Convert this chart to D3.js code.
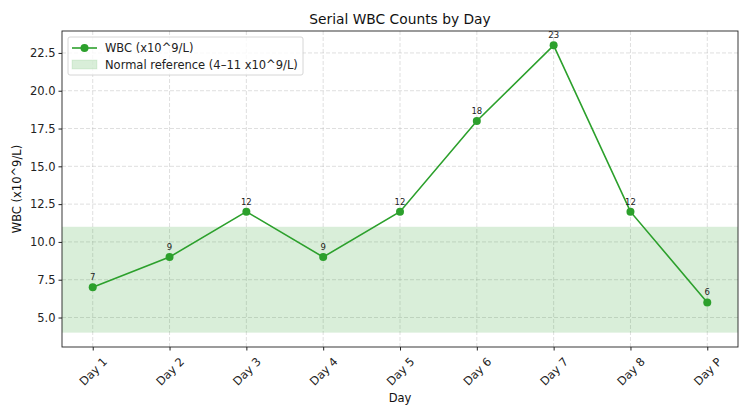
<!DOCTYPE html>
<html lang="en">
<head>
<meta charset="UTF-8"/>
<title>Serial WBC Counts by Day</title>
<script src="https://d3js.org/d3.v7.min.js"></script>
<style>
  body { margin: 0; background: #fff; }
  text { font-family: "DejaVu Sans", sans-serif; }
</style>
</head>
<body>
<script>
var days = ["Day 1", "Day 2", "Day 3", "Day 4", "Day 5", "Day 6", "Day 7", "Day 8", "Day P"];
var wbc = [7, 9, 12, 9, 12, 18, 23, 12, 6];
var refLow = 4, refHigh = 11;
var yTicks = [5.0, 7.5, 10.0, 12.5, 15.0, 17.5, 20.0, 22.5];

var w = 750, h = 417;
var plotLeft = 62, plotRight = 738, plotTop = 31, plotBottom = 347;
var green = "#2ca02c";

var svg = d3.select("body").append("svg")
    .attr("width", w)
    .attr("height", h);

var xScale = d3.scaleLinear()
    .domain([-0.4, days.length - 1 + 0.4])
    .range([plotLeft, plotRight]);

var yScale = d3.scaleLinear()
    .domain([3.05, 23.95])
    .range([plotBottom, plotTop]);

// grid
svg.append("g").selectAll("line")
    .data(days)
    .enter().append("line")
    .attr("x1", (d, i) => xScale(i)).attr("x2", (d, i) => xScale(i))
    .attr("y1", plotTop).attr("y2", plotBottom)
    .attr("stroke", "#b0b0b0").attr("stroke-opacity", 0.5)
    .attr("stroke-dasharray", "4,2").attr("stroke-width", 0.8);

svg.append("g").selectAll("line")
    .data(yTicks)
    .enter().append("line")
    .attr("x1", plotLeft).attr("x2", plotRight)
    .attr("y1", d => yScale(d)).attr("y2", d => yScale(d))
    .attr("stroke", "#b0b0b0").attr("stroke-opacity", 0.5)
    .attr("stroke-dasharray", "4,2").attr("stroke-width", 0.8);

// reference band
svg.append("rect")
    .attr("x", plotLeft)
    .attr("width", plotRight - plotLeft)
    .attr("y", yScale(refHigh))
    .attr("height", yScale(refLow) - yScale(refHigh))
    .attr("fill", green)
    .attr("fill-opacity", 0.18);

// line
var line = d3.line()
    .x((d, i) => xScale(i))
    .y(d => yScale(d));

svg.append("path")
    .datum(wbc)
    .attr("d", line)
    .attr("fill", "none")
    .attr("stroke", green)
    .attr("stroke-width", 1.6);

svg.selectAll("circle")
    .data(wbc)
    .enter().append("circle")
    .attr("cx", (d, i) => xScale(i))
    .attr("cy", d => yScale(d))
    .attr("r", 4)
    .attr("fill", green);

// value labels
svg.selectAll("text.val")
    .data(wbc)
    .enter().append("text")
    .attr("class", "val")
    .attr("x", (d, i) => xScale(i))
    .attr("y", d => yScale(d) - 7)
    .attr("text-anchor", "middle")
    .attr("font-size", "8.5px")
    .attr("fill", "#222")
    .text(d => d);

// axes
var xAxis = d3.axisBottom(xScale)
    .tickValues(d3.range(days.length))
    .tickFormat(i => days[i])
    .tickSize(3.5)
    .tickPadding(3);

var gx = svg.append("g")
    .attr("transform", "translate(0," + plotBottom + ")")
    .call(xAxis);
gx.select(".domain").remove();
gx.selectAll("line").attr("stroke", "#222");
gx.selectAll("text")
    .attr("font-size", "11.5px")
    .attr("fill", "#222")
    .attr("text-anchor", "middle")
    .attr("y", 0)
    .attr("dy", "0.35em")
    .attr("transform", "translate(0,24.5) rotate(-45)");

var yAxis = d3.axisLeft(yScale)
    .tickValues(yTicks)
    .tickFormat(d3.format(".1f"))
    .tickSize(3.5)
    .tickPadding(3);

var gy = svg.append("g")
    .attr("transform", "translate(" + plotLeft + ",0)")
    .call(yAxis);
gy.select(".domain").remove();
gy.selectAll("line").attr("stroke", "#222");
gy.selectAll("text").attr("font-size", "11.5px").attr("fill", "#222");

// frame
svg.append("rect")
    .attr("x", plotLeft).attr("y", plotTop)
    .attr("width", plotRight - plotLeft).attr("height", plotBottom - plotTop)
    .attr("fill", "none")
    .attr("stroke", "#222")
    .attr("stroke-width", 0.9);

// titles
svg.append("text")
    .attr("x", (plotLeft + plotRight) / 2).attr("y", 24)
    .attr("text-anchor", "middle")
    .attr("font-size", "13.8px")
    .attr("fill", "#111")
    .text("Serial WBC Counts by Day");

svg.append("text")
    .attr("x", (plotLeft + plotRight) / 2).attr("y", 402)
    .attr("text-anchor", "middle")
    .attr("font-size", "11.5px")
    .attr("fill", "#111")
    .text("Day");

svg.append("text")
    .attr("transform", "translate(21," + ((plotTop + plotBottom) / 2) + ") rotate(-90)")
    .attr("text-anchor", "middle")
    .attr("font-size", "11.5px")
    .attr("fill", "#111")
    .text("WBC (x10^9/L)");

// legend
var lg = svg.append("g").attr("transform", "translate(68,37)");
lg.append("rect")
    .attr("width", 235).attr("height", 38)
    .attr("rx", 2)
    .attr("fill", "#fff").attr("fill-opacity", 0.8)
    .attr("stroke", "#ccc").attr("stroke-width", 0.8);
lg.append("line")
    .attr("x1", 4).attr("x2", 29).attr("y1", 11).attr("y2", 11)
    .attr("stroke", green).attr("stroke-width", 1.6);
lg.append("circle")
    .attr("cx", 16.5).attr("cy", 11).attr("r", 4).attr("fill", green);
lg.append("text")
    .attr("x", 37).attr("y", 15)
    .attr("font-size", "11.5px").attr("fill", "#222")
    .text("WBC (x10^9/L)");
lg.append("rect")
    .attr("x", 4).attr("y", 23).attr("width", 25).attr("height", 9)
    .attr("fill", green).attr("fill-opacity", 0.18)
    .attr("stroke", green).attr("stroke-opacity", 0.1);
lg.append("text")
    .attr("x", 37).attr("y", 32)
    .attr("font-size", "11.5px").attr("fill", "#222")
    .text("Normal reference (4\u201311 x10^9/L)");
</script>
</body>
</html>
